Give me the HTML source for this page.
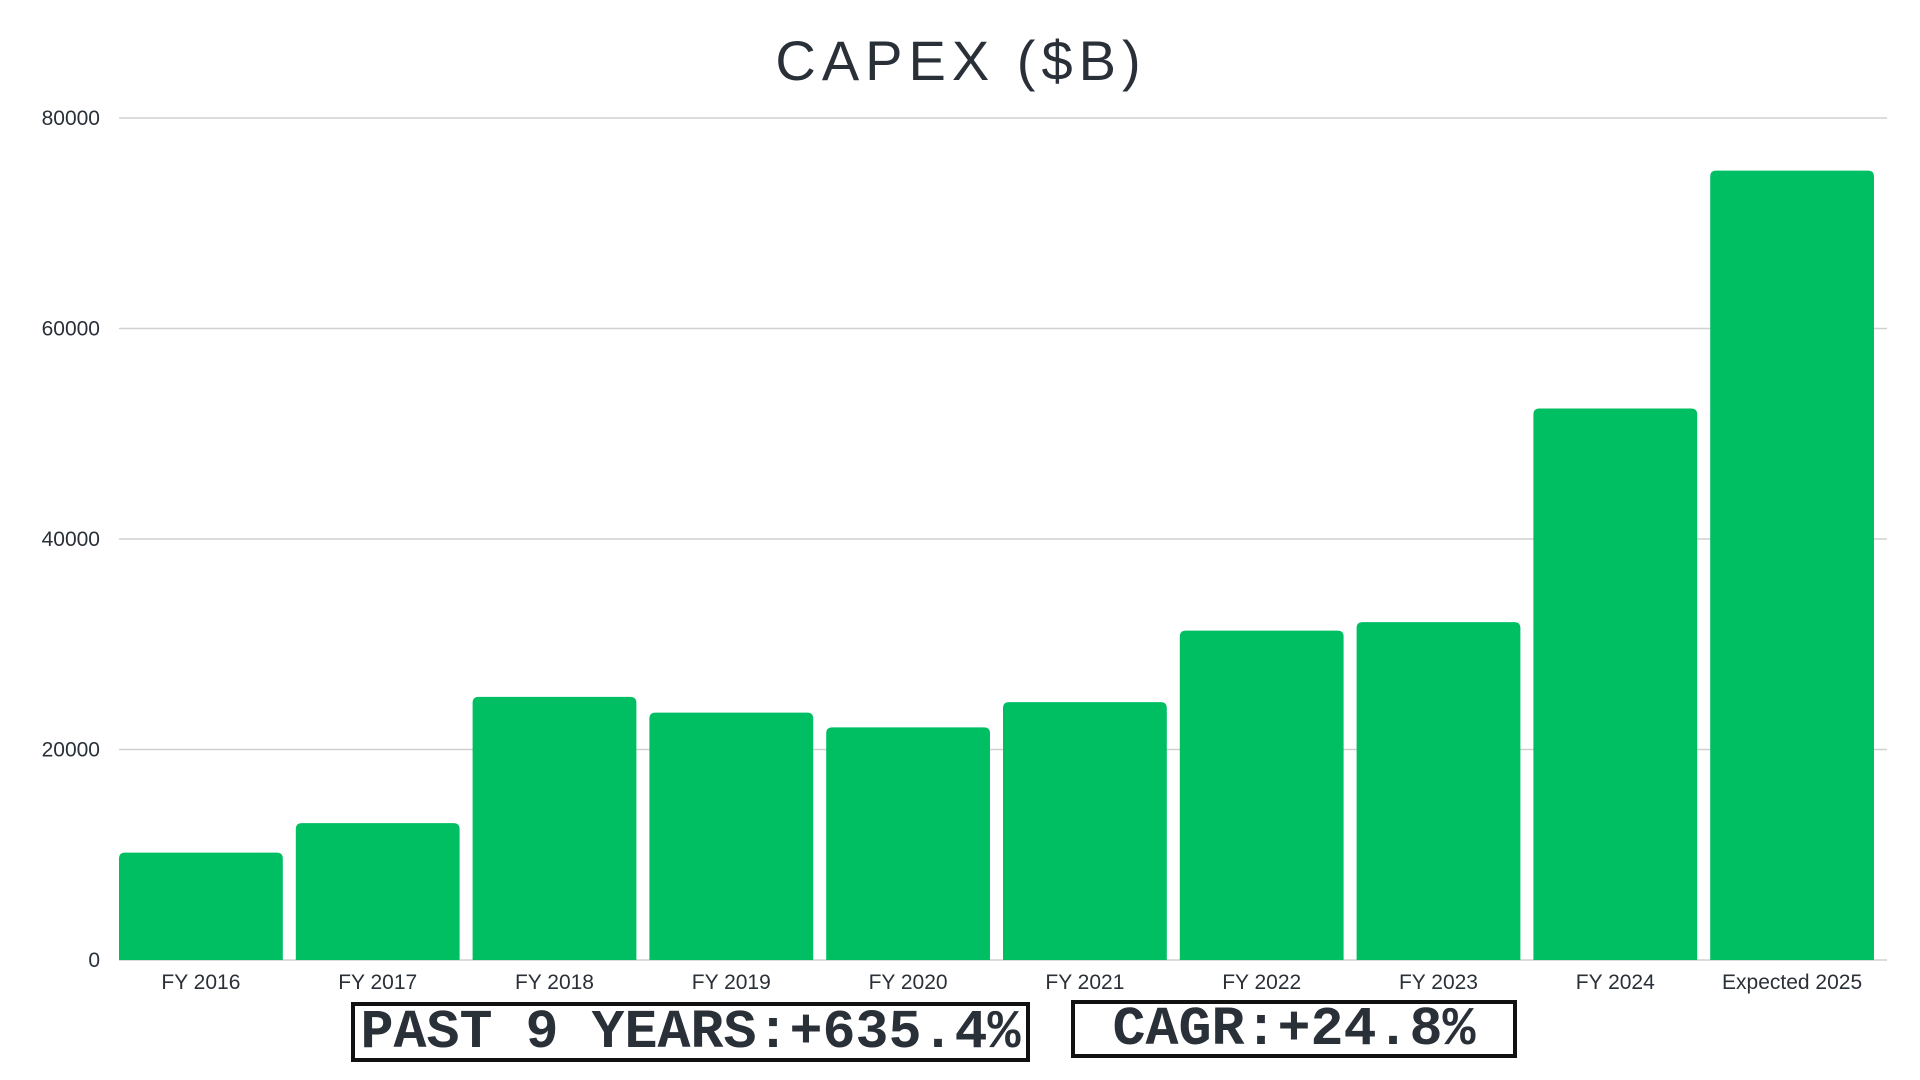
<!DOCTYPE html>
<html><head><meta charset="utf-8"><style>
body{margin:0;background:#fff;width:1920px;height:1080px;overflow:hidden;font-family:"Liberation Sans",sans-serif}
.box{position:absolute;border:4px solid #111;box-sizing:border-box;font-family:"Liberation Mono",monospace;font-weight:bold;color:#2a3038;font-size:55px;display:flex;align-items:center;justify-content:center;line-height:1}
</style></head><body>
<svg width="1920" height="1080" style="position:absolute;left:0;top:0">
<text x="961" y="80" text-anchor="middle" font-size="56" letter-spacing="6" fill="#2a3038" font-family="Liberation Sans, sans-serif">CAPEX ($B)</text>
<g id="grid"></g><g id="bars"></g><g id="xl"></g>
</svg>
<div class="box" style="left:351px;top:1002px;width:679px;height:60px">PAST 9 YEARS:+635.4%</div>
<div class="box" style="left:1071px;top:1000px;width:446px;height:58px">CAGR:+24.8%</div>
<script>
const categories=["FY 2016","FY 2017","FY 2018","FY 2019","FY 2020","FY 2021","FY 2022","FY 2023","FY 2024","Expected 2025"];
const values=[10200,13000,25000,23500,22100,24500,31300,32100,52400,75000];
const ticks=[0,20000,40000,60000,80000];
const NS="http://www.w3.org/2000/svg";
const x0=119,x1=1887,y0=960,y1=118,vmax=80000;
const bw=(x1-x0)/categories.length;
const y=v=>y0-(v/vmax)*(y0-y1);
const gG=document.getElementById('grid'),gB=document.getElementById('bars'),gX=document.getElementById('xl');
ticks.forEach(t=>{
 const l=document.createElementNS(NS,'line');
 
 
 l.setAttribute('x1',x0);l.setAttribute('x2',x1);l.setAttribute('y1',y(t));l.setAttribute('y2',y(t));
 l.setAttribute('stroke','#d0d0d0');l.setAttribute('stroke-width','1.5');gG.appendChild(l);
 const tx=document.createElementNS(NS,'text');
 
 
 tx.setAttribute('x',100);tx.setAttribute('y',y(t)+7);tx.setAttribute('text-anchor','end');
 tx.setAttribute('font-size','21');tx.setAttribute('fill','#2a3038');tx.textContent=t;gG.appendChild(tx);
});
categories.forEach((c,i)=>{
 const bx=x0+i*bw, w=bw-13, v=values[i];
 const r=document.createElementNS(NS,'path');
 
 
 const top=y(v),rad=6;
 r.setAttribute('d',`M${bx},${y0}V${top+rad}Q${bx},${top} ${bx+rad},${top}H${bx+w-rad}Q${bx+w},${top} ${bx+w},${top+rad}V${y0}Z`);
 r.setAttribute('fill','#00bf63');gB.appendChild(r);
 const t=document.createElementNS(NS,'text');
 
 
 t.setAttribute('x',bx+w/2);t.setAttribute('y',989);t.setAttribute('text-anchor','middle');
 t.setAttribute('font-size','21');t.setAttribute('fill','#2a3038');t.textContent=c;gX.appendChild(t);
});
</script>
</body></html>
